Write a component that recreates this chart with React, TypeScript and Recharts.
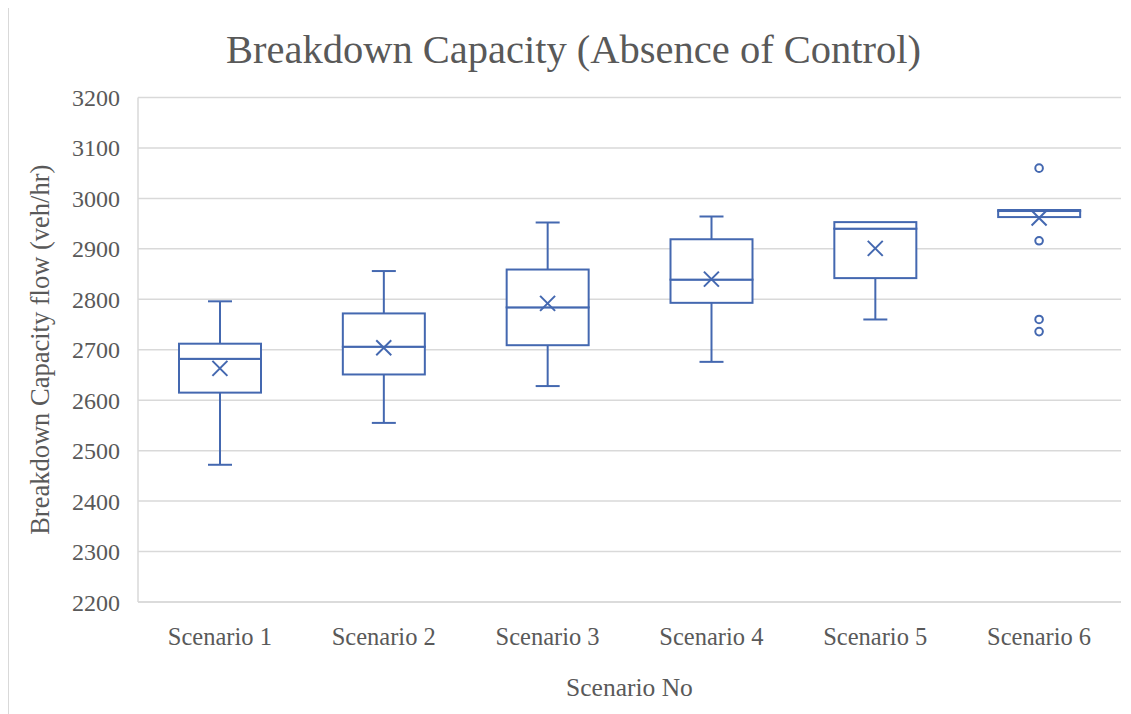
import React from "react";
import { Bar, CartesianGrid, ComposedChart, Scatter, XAxis, YAxis } from "recharts";

const scenarios = ["Scenario 1", "Scenario 2", "Scenario 3", "Scenario 4", "Scenario 5", "Scenario 6"];
const mins = [2472, 2555, 2628, 2676, 2760, 2963];
const q1s = [2615, 2651, 2709, 2793, 2842, 2963];
const medians = [2682, 2706, 2784, 2839, 2940, 2975];
const q3s = [2712, 2772, 2859, 2919, 2953, 2977];
const maxs = [2796, 2856, 2952, 2964, 2953, 2977];
const means = [2663, 2704, 2792, 2840, 2901, 2961];

const outlierScenarios = ["Scenario 6", "Scenario 6", "Scenario 6", "Scenario 6"];
const outlierValues = [3060, 2916, 2760, 2736];

const yTicks = [2200, 2300, 2400, 2500, 2600, 2700, 2800, 2900, 3000, 3100, 3200];

const BLUE = "#4468b0";
const GRID = "#d9d9d9";
const TEXT = "#595959";

// stacked segments: invisible base, lower whisker, lower box, upper box, upper whisker
const rows = scenarios.map((name, i) => ({
  name,
  base: mins[i],
  lowW: q1s[i] - mins[i],
  lowBox: medians[i] - q1s[i],
  upBox: q3s[i] - medians[i],
  upW: maxs[i] - q3s[i],
  mean: means[i],
}));

const outlierRows = outlierScenarios.map((name, i) => ({ name, value: outlierValues[i] }));

function LowerWhisker(props: any) {
  const { x, y, width, height } = props;
  if (!height || height <= 0) return null;
  const cx = x + width / 2;
  return (
    <g stroke={BLUE} strokeWidth={2}>
      <line x1={cx} x2={cx} y1={y} y2={y + height} />
      <line x1={cx - 12} x2={cx + 12} y1={y + height} y2={y + height} />
    </g>
  );
}

function UpperWhisker(props: any) {
  const { x, y, width, height } = props;
  if (!height || height <= 0) return null;
  const cx = x + width / 2;
  return (
    <g stroke={BLUE} strokeWidth={2}>
      <line x1={cx} x2={cx} y1={y} y2={y + height} />
      <line x1={cx - 12} x2={cx + 12} y1={y} y2={y} />
    </g>
  );
}

function BoxPart(props: any) {
  const { x, y, width, height } = props;
  return (
    <rect x={x} y={y} width={width} height={Math.max(height || 0, 0)} fill="#fff" stroke={BLUE} strokeWidth={2} />
  );
}

function MeanMark(props: any) {
  const { cx, cy } = props;
  const s = 7.5;
  return (
    <g stroke={BLUE} strokeWidth={2}>
      <line x1={cx - s} x2={cx + s} y1={cy - s} y2={cy + s} />
      <line x1={cx - s} x2={cx + s} y1={cy + s} y2={cy - s} />
    </g>
  );
}

function OutlierMark(props: any) {
  const { cx, cy } = props;
  return <circle cx={cx} cy={cy} r={3.8} fill="#fff" stroke={BLUE} strokeWidth={2} />;
}

export default function App() {
  return (
    <div
      style={{
        position: "relative",
        width: 1123,
        height: 710,
        borderTop: `1px solid ${GRID}`,
        borderLeft: `1px solid ${GRID}`,
        marginTop: -1,
        fontFamily: "'Liberation Serif', 'Times New Roman', serif",
        background: "#fff",
      }}
    >
      <div
        style={{
          position: "absolute",
          left: 3,
          top: 22,
          width: 1123,
          textAlign: "center",
          fontSize: 40.5,
          lineHeight: "40px",
          color: TEXT,
        }}
      >
        Breakdown Capacity (Absence of Control)
      </div>
      <ComposedChart
        width={1122}
        height={696}
        data={rows}
        margin={{ top: 89.5, right: 10, bottom: 0, left: 0 }}
      >
        <CartesianGrid vertical={false} stroke={GRID} strokeWidth={1.5} />
        <XAxis
          dataKey="name"
          type="category"
          allowDuplicatedCategory={false}
          height={102}
          tickLine={false}
          tickSize={0}
          tickMargin={26}
          axisLine={{ stroke: GRID, strokeWidth: 1.5 }}
          tick={{ fill: TEXT, fontSize: 24.5 }}
          label={{ value: "Scenario No", position: "insideBottom", offset: 8, fill: TEXT, fontSize: 25.5 }}
        />
        <YAxis
          type="number"
          domain={[2200, 3200]}
          ticks={yTicks}
          allowDataOverflow
          width={129}
          tickLine={false}
          tickSize={0}
          tickMargin={18}
          axisLine={{ stroke: GRID, strokeWidth: 1.5 }}
          tick={{ fill: TEXT, fontSize: 24 }}
          label={{
            value: "Breakdown Capacity flow (veh/hr)",
            angle: -90,
            position: "insideLeft",
            offset: 31,
            fill: TEXT,
            fontSize: 26.5,
            style: { textAnchor: "middle" },
          }}
        />
        <Bar dataKey="base" stackId="box" barSize={82} fill="none" isAnimationActive={false} />
        <Bar dataKey="lowW" stackId="box" barSize={82} shape={LowerWhisker} isAnimationActive={false} />
        <Bar dataKey="lowBox" stackId="box" barSize={82} shape={BoxPart} isAnimationActive={false} />
        <Bar dataKey="upBox" stackId="box" barSize={82} shape={BoxPart} isAnimationActive={false} />
        <Bar dataKey="upW" stackId="box" barSize={82} shape={UpperWhisker} isAnimationActive={false} />
        <Scatter dataKey="mean" shape={MeanMark} isAnimationActive={false} />
        <Scatter data={outlierRows} dataKey="value" shape={OutlierMark} isAnimationActive={false} />
      </ComposedChart>
    </div>
  );
}
